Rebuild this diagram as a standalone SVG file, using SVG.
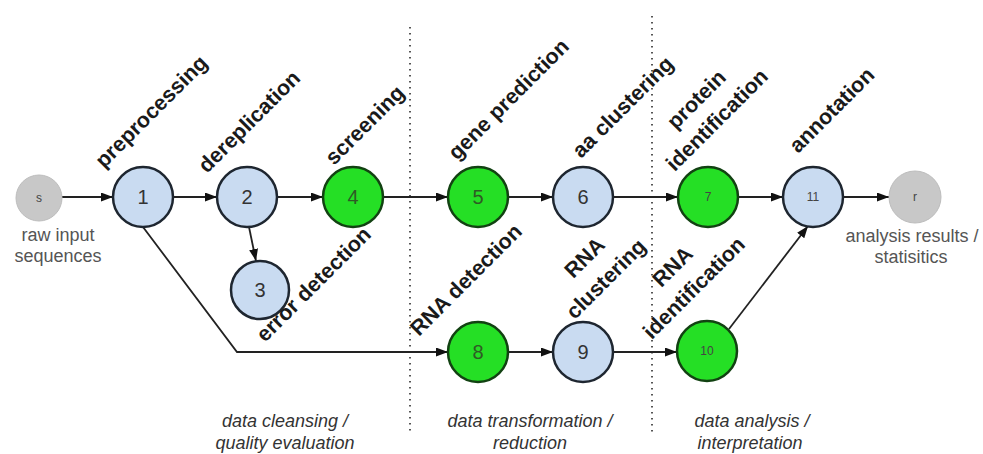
<svg xmlns="http://www.w3.org/2000/svg" width="983" height="454" viewBox="0 0 983 454">
<style>
.blue{fill:#c9dbf1;stroke:#1e2630;stroke-width:2.5}
.green{fill:#25df25;stroke:#124212;stroke-width:2.5}
.grey{fill:#c8c8c8;stroke:#bdbdbd;stroke-width:1}
.num{font-family:"Liberation Sans",Arial,sans-serif;font-size:20px;fill:#333;text-anchor:middle}
.numg{font-family:"Liberation Sans",Arial,sans-serif;font-size:20px;fill:#2f5a25;text-anchor:middle}
.small{font-family:"Liberation Sans",Arial,sans-serif;font-size:12px;fill:#444;text-anchor:middle}
.lbl{font-family:"Liberation Sans",Arial,sans-serif;font-size:21.5px;font-weight:bold;fill:#1a1a1a}
.lblc{font-family:"Liberation Sans",Arial,sans-serif;font-size:21.5px;font-weight:bold;fill:#1a1a1a;text-anchor:middle}
.io{font-family:"Liberation Sans",Arial,sans-serif;font-size:18px;fill:#555;text-anchor:middle}
.phase{font-family:"Liberation Sans",Arial,sans-serif;font-size:18px;font-style:italic;fill:#333;text-anchor:middle}
.edge{fill:none;stroke:#222;stroke-width:1.8}
.sep{stroke:#555;stroke-width:2;stroke-dasharray:1.5 4.5;fill:none}
</style>
<defs>
<marker id="arr" markerUnits="userSpaceOnUse" markerWidth="13" markerHeight="10" refX="12" refY="4.5" orient="auto">
<path d="M0,0 L12,4.5 L0,9 z" fill="#111"/>
</marker>
</defs>
<rect width="983" height="454" fill="#fff"/>
<g id="separators">
<line class="sep" x1="410" y1="27" x2="410" y2="434"/>
<line class="sep" x1="652" y1="16" x2="652" y2="434"/>
</g>
<g id="connectors">
<line class="edge" x1="62" y1="197" x2="113" y2="197" marker-end="url(#arr)"/>
<line class="edge" x1="173" y1="197" x2="217" y2="197" marker-end="url(#arr)"/>
<line class="edge" x1="277" y1="197" x2="323" y2="197" marker-end="url(#arr)"/>
<line class="edge" x1="383" y1="197" x2="448" y2="197" marker-end="url(#arr)"/>
<line class="edge" x1="508" y1="197" x2="553" y2="197" marker-end="url(#arr)"/>
<line class="edge" x1="613" y1="197" x2="678" y2="197" marker-end="url(#arr)"/>
<line class="edge" x1="738" y1="197" x2="783" y2="197" marker-end="url(#arr)"/>
<line class="edge" x1="843" y1="197" x2="889" y2="197" marker-end="url(#arr)"/>
<line class="edge" x1="249" y1="227" x2="256" y2="261" marker-end="url(#arr)"/>
<polyline class="edge" points="143,227 237,352 448,352" marker-end="url(#arr)"/>
<line class="edge" x1="508" y1="352" x2="553" y2="352" marker-end="url(#arr)"/>
<line class="edge" x1="613" y1="352" x2="677" y2="352" marker-end="url(#arr)"/>
<line class="edge" x1="729" y1="329" x2="808" y2="226" marker-end="url(#arr)"/>
</g>
<g id="node-s"><circle class="grey" cx="39" cy="198" r="23"/><text class="small" x="39" y="202">s</text>
<text class="io" x="58" y="241">raw input</text><text class="io" x="58" y="262">sequences</text></g>
<g id="node-1"><circle class="blue" cx="143" cy="197" r="30"/><text class="num" x="143" y="204">1</text>
<text class="lbl" transform="translate(104,169) rotate(-45)">preprocessing</text></g>
<g id="node-2"><circle class="blue" cx="247" cy="197" r="30"/><text class="num" x="247" y="204">2</text>
<text class="lbl" transform="translate(207,174) rotate(-45)">dereplication</text></g>
<g id="node-3"><circle class="blue" cx="260" cy="290" r="29"/><text class="num" x="260" y="297">3</text>
<text class="lbl" transform="translate(265,343) rotate(-45)">error detection</text></g>
<g id="node-4"><circle class="green" cx="353" cy="197" r="30"/><text class="numg" x="353" y="204">4</text>
<text class="lbl" transform="translate(334,166) rotate(-45)">screening</text></g>
<g id="node-5"><circle class="green" cx="478" cy="197" r="30"/><text class="numg" x="478" y="204">5</text>
<text class="lbl" transform="translate(457,161) rotate(-45)">gene prediction</text></g>
<g id="node-6"><circle class="blue" cx="583" cy="197" r="30"/><text class="num" x="583" y="204">6</text>
<text class="lbl" transform="translate(581,159) rotate(-45)">aa clustering</text></g>
<g id="node-7"><circle class="green" cx="708" cy="197" r="30"/><text class="small" x="708" y="201" fill="#2f5a25">7</text>
<text class="lblc" transform="translate(722,125) rotate(-45)"><tspan x="0" y="-29">protein</tspan><tspan x="0" y="0">identification</tspan></text></g>
<g id="node-8"><circle class="green" cx="478" cy="352" r="30"/><text class="numg" x="478" y="359">8</text>
<text class="lbl" transform="translate(419,337) rotate(-45)">RNA detection</text></g>
<g id="node-9"><circle class="blue" cx="583" cy="352" r="30"/><text class="num" x="583" y="359">9</text>
<text class="lblc" transform="translate(611,284) rotate(-45)"><tspan x="0" y="-30">RNA</tspan><tspan x="0" y="0">clustering</tspan></text></g>
<g id="node-10"><circle class="green" cx="707" cy="351" r="30"/><text class="small" x="707" y="355" fill="#2f5a25">10</text>
<text class="lblc" transform="translate(699,293) rotate(-45)"><tspan x="0" y="-30">RNA</tspan><tspan x="0" y="0">identification</tspan></text></g>
<g id="node-11"><circle class="blue" cx="813" cy="197" r="30"/><text class="small" x="813" y="201">11</text>
<text class="lbl" transform="translate(798,154) rotate(-45)">annotation</text></g>
<g id="node-r"><circle class="grey" cx="915" cy="197" r="26"/><text class="small" x="915" y="201">r</text>
<text class="io" x="912" y="242">analysis results /</text><text class="io" x="911" y="263">statisitics</text></g>
<g id="phases">
<text class="phase" x="285" y="427">data cleansing /</text><text class="phase" x="285" y="449">quality evaluation</text>
<text class="phase" x="530" y="427">data transformation /</text><text class="phase" x="530" y="449">reduction</text>
<text class="phase" x="752" y="427">data analysis /</text><text class="phase" x="750" y="449">interpretation</text>
</g>
</svg>
